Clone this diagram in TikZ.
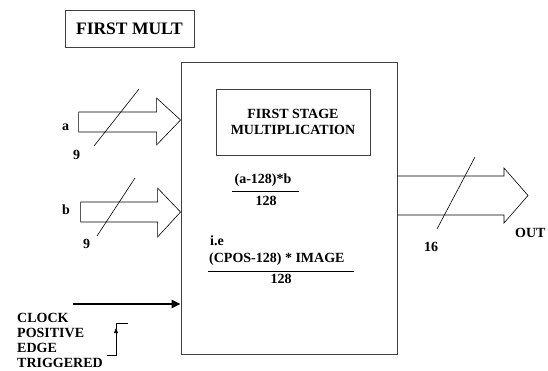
\documentclass[tikz,border=0pt]{standalone}
\usepackage{fontspec}
\setmainfont{Liberation Serif}
\usetikzlibrary{arrows.meta}
\begin{document}
\begin{tikzpicture}[x=1pt,y=-1pt,
  lbl/.style={font=\bfseries\fontsize{14}{15.5}\selectfont, inner sep=0pt},
  frame/.style={draw=black!75, line width=0.9pt},
  thinline/.style={line width=0.6pt}]
\useasboundingbox (0,0) rectangle (548,370);
% boxes
\node[frame, minimum width=129pt, minimum height=37pt, font=\bfseries\fontsize{17.5}{19}\selectfont] (title) at (129.5,28.5) {FIRST MULT};
\node[frame, minimum width=216pt, minimum height=292pt] (main) at (289,208) {};
\node[frame, minimum width=154pt, minimum height=66pt, align=center, lbl] (stage) at (293,122) {FIRST STAGE\\MULTIPLICATION};
% input arrow a
\coordinate (ta) at (main.west |- 0,120);
\draw[thinline] (ta) -- ++(-24,-22) -- ++(0,14) -- ++(-78,0) -- ++(0,20) -- ++(78,0) -- ++(0,13) -- cycle;
\draw[thinline] (94,146) -- (139,89);
\node[lbl, anchor=base west] (la) at (62,130) {a};
\node[lbl, anchor=base west] (na) at (73,159) {9};
% input arrow b
\coordinate (tb) at (main.west |- 0,212);
\draw[thinline] (tb) -- ++(-23,-24) -- ++(0,14) -- ++(-77,0) -- ++(0,20) -- ++(77,0) -- ++(0,15) -- cycle;
\draw[thinline] (97,236) -- (135,178);
\node[lbl, anchor=base west] (lb) at (62,214) {b};
\node[lbl, anchor=base west] (nb) at (83,248) {9};
% output arrow
\coordinate (ot) at (main.east |- 0,176);
\coordinate (ob) at (main.east |- 0,215);
\draw[thinline] (ot) -- (504,176) -- (504,168) -- (528,195.5) -- (504,223) -- (504,215) -- (ob);
\draw[thinline] (437,229) -- (475,157);
\node[lbl, anchor=base west] (n16) at (424,251) {16};
\node[lbl, anchor=base west] (out) at (515,237) {OUT};
% clock
\coordinate (clk) at (73,304);
\draw[line width=2.5pt, -{Triangle[length=9pt,width=8pt]}] (clk) -- (main.west |- clk);
\node[lbl, anchor=north west, align=left, font=\bfseries\fontsize{14}{15}\selectfont] (clktxt) at (17,313.5) {CLOCK\\POSITIVE\\EDGE\\TRIGGERED};
\draw[thinline] (107,355) -- (116,355) -- (116,323) -- (128,323);
\draw[thinline, -{Triangle[length=5pt,width=4pt]}] (116,340) -- (116,328);
% formulas
\node[lbl, anchor=base] (f1n) at (263,183) {(a-128)*b};
\draw[thinline] (232,191) -- (299,191);
\node[lbl, anchor=base] (f1d) at (266,205) {128};
\node[lbl, anchor=base west] (ie) at (210,245) {i.e};
\node[lbl, anchor=base west] (f2n) at (209,262) {(CPOS-128) * IMAGE};
\draw[thinline] (208,271) -- (354,271);
\node[lbl, anchor=base] (f2d) at (281,283) {128};
\end{tikzpicture}
\end{document}
